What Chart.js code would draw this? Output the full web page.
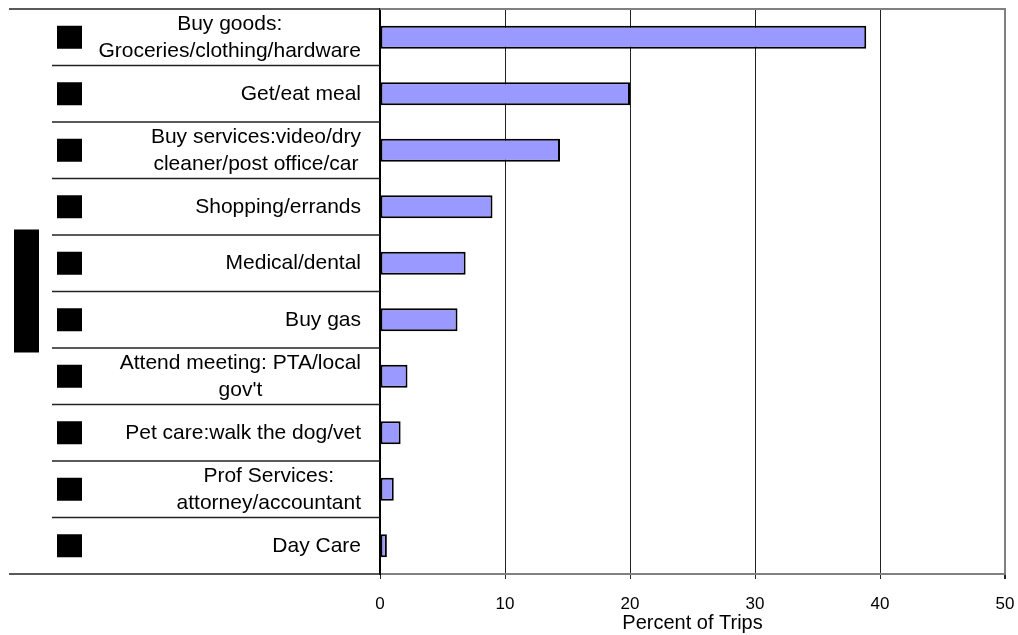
<!DOCTYPE html>
<html>
<head>
<meta charset="utf-8">
<script src="https://cdn.jsdelivr.net/npm/chart.js@4"></script>
<style>
  body { margin: 0; background: #fff; }
  #wrap { width: 1018px; height: 635px; position: relative; }
</style>
</head>
<body>
<div id="wrap"><canvas id="myChart"></canvas></div>
<script>
// categories, top to bottom (each entry = label lines)
var categories = [
    ["Buy goods:", "Groceries/clothing/hardware"],
    ["Get/eat meal"],
    ["Buy services:video/dry", "cleaner/post office/car"],
    ["Shopping/errands"],
    ["Medical/dental"],
    ["Buy gas"],
    ["Attend meeting: PTA/local", "gov't"],
    ["Pet care:walk the dog/vet"],
    ["Prof Services:", "attorney/accountant"],
    ["Day Care"]
];
var percentOfTrips = [38.9, 20.0, 14.4, 9.0, 6.85, 6.2, 2.2, 1.65, 1.1, 0.55];
var xTickValues = [0, 10, 20, 30, 40, 50];
var xTitle = "Percent of Trips";

var FONT = "'Liberation Sans', Arial, sans-serif";
Chart.defaults.font.family = FONT;
Chart.defaults.color = "#000";

// draws the category labels (lines centred on each other), separators and the black marker boxes
var categoryPanel = {
    id: "categoryPanel",
    afterDraw: function (chart) {
        var ctx = chart.ctx;
        var y = chart.scales.y;
        var area = chart.chartArea;
        var n = categories.length;
        ctx.save();

        // separators
        ctx.strokeStyle = "#222";
        ctx.lineWidth = 1.5;
        for (var i = 0; i <= n; i++) {
            var yy = y.getPixelForValue(i - 0.5);
            var x0 = (i === 0 || i === n) ? 9 : 52;
            ctx.beginPath();
            ctx.moveTo(x0, yy);
            ctx.lineTo(area.left, yy);
            ctx.stroke();
        }

        // plot frame top + right (grey)
        ctx.strokeStyle = "#808080";
        ctx.lineWidth = 2;
        ctx.beginPath();
        ctx.moveTo(area.left, area.top);
        ctx.lineTo(area.right, area.top);
        ctx.lineTo(area.right, area.bottom);
        ctx.stroke();

        // labels
        ctx.fillStyle = "#000";
        ctx.font = "21px " + FONT;
        ctx.textAlign = "center";
        ctx.textBaseline = "middle";
        var labelRight = area.left - 19;
        categories.forEach(function (lines, i) {
            var yc = y.getPixelForValue(i);
            var w = Math.max.apply(null, lines.map(function (l) { return ctx.measureText(l).width; }));
            var cx = labelRight - w / 2;
            lines.forEach(function (l, k) {
                ctx.fillText(l, cx, yc + (k - (lines.length - 1) / 2) * 27);
            });
            // marker box
            ctx.fillRect(57, yc - 11.5, 25, 23);
        });

        // axis title block
        var mid = (area.top + area.bottom) / 2;
        ctx.fillRect(14, mid - 62, 25, 123);
        ctx.restore();
    }
};

var ctx = document.getElementById("myChart").getContext("2d");
var myChart = new Chart(ctx, {
    type: "bar",
    data: {
        labels: categories,
        datasets: [{
            data: percentOfTrips,
            backgroundColor: "#9999FF",
            borderColor: "#000",
            borderWidth: 2,
            borderSkipped: false,
            categoryPercentage: 1,
            barPercentage: 0.41
        }]
    },
    options: {
        indexAxis: "y",
        responsive: true,
        maintainAspectRatio: false,
        animation: false,
        layout: { padding: { top: 9, right: 13, left: 0, bottom: 0 } },
        plugins: {
            legend: { display: false },
            tooltip: { enabled: false }
        },
        scales: {
            x: {
                min: 0,
                max: 50,
                afterBuildTicks: function (scale) {
                    scale.ticks = xTickValues.map(function (v) { return { value: v }; });
                },
                afterFit: function (scale) {
                    scale.height = 61;
                    scale.paddingLeft = 0;
                    scale.paddingRight = 0;
                },
                grid: {
                    color: function (c) { return c.tick && c.tick.value === 50 ? "#808080" : "#222"; },
                    lineWidth: function (c) { return c.tick && c.tick.value === 50 ? 2 : 1; },
                    tickLength: 5,
                    tickColor: "#222"
                },
                border: { color: "#808080", width: 2 },
                ticks: {
                    padding: 15,
                    font: { size: 17 },
                    maxRotation: 0
                },
                title: {
                    display: true,
                    text: xTitle,
                    font: { size: 20 },
                    padding: 0
                }
            },
            y: {
                afterFit: function (scale) { scale.width = 380; },
                grid: { display: false },
                border: { color: "#000", width: 2 },
                ticks: { display: false }
            }
        }
    },
    plugins: [categoryPanel]
});
</script>
</body>
</html>
